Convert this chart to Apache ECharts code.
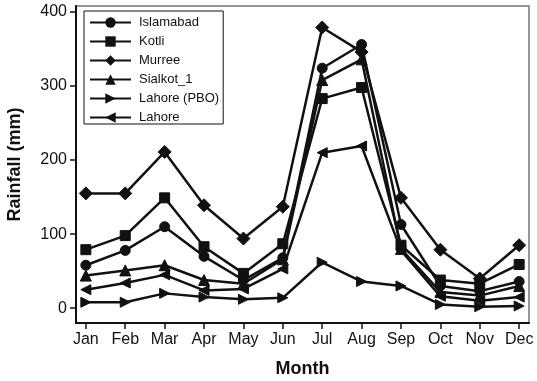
<!DOCTYPE html>
<html>
<head>
<meta charset="utf-8">
<script src="https://cdn.jsdelivr.net/npm/echarts@6/dist/echarts.min.js"></script>
<style>html,body{margin:0;padding:0;background:#fff}#c{width:537px;height:381px}</style>
</head>
<body>
<div id="c"></div>
<script>
var months = ['Jan','Feb','Mar','Apr','May','Jun','Jul','Aug','Sep','Oct','Nov','Dec'];
var yTicks = [0, 100, 200, 300, 400];
var islamabad = [58, 78, 110, 70, 38, 68, 324, 356, 113, 30, 23, 36];
var kotli     = [79, 98, 149, 83, 47, 87, 283, 298, 85, 38, 33, 59];
var murree    = [155, 155, 211, 139, 94, 137, 379, 346, 149, 79, 40, 85];
var sialkot   = [44, 51, 58, 38, 33, 66, 308, 336, 80, 22, 17, 30];
var lahorePBO = [8, 8, 20, 15, 12, 14, 62, 36, 30, 5, 2, 3];
var lahore    = [25, 34, 45, 24, 26, 53, 210, 219, 78, 16, 10, 15];

var seriesDefs = [
  {name: 'Islamabad', data: islamabad, symbol: 'circle', size: 10},
  {name: 'Kotli', data: kotli, symbol: 'rect', size: 10},
  {name: 'Murree', data: murree, symbol: 'diamond', size: 13},
  {name: 'Sialkot_1', data: sialkot, symbol: 'triangle', size: 11},
  {name: 'Lahore (PBO)', data: lahorePBO, symbol: 'path://M0,0 L10,5 L0,10 Z', size: 10},
  {name: 'Lahore', data: lahore, symbol: 'path://M10,0 L0,5 L10,10 Z', size: 10}
];
var ink = '#111';
var chart = echarts.init(document.getElementById('c'), null, {renderer: 'canvas'});
chart.setOption({
  animation: false,
  backgroundColor: '#fff',
  textStyle: {fontFamily: 'Liberation Sans, Arial, sans-serif', color: ink},
  grid: {left: 76, right: 8, top: 6, bottom: 58, show: true, borderColor: '#777', borderWidth: 1.5,
         containLabel: false, outerBoundsMode: 'none'},
  legend: {
    orient: 'vertical', left: 84, top: 11,
    padding: [5, 4, 0, 5],
    itemGap: 6, itemWidth: 41, itemHeight: 13,
    borderColor: ink, borderWidth: 1, backgroundColor: '#fff',
    textStyle: {fontSize: 13, color: ink, fontFamily: 'Liberation Sans, Arial, sans-serif', padding: [0, 0, 0, 3]},
    data: seriesDefs.map(function (s) { return s.name; })
  },
  xAxis: {
    type: 'value', min: 0.75, max: 12.25,
    name: 'Month', nameLocation: 'middle', nameGap: 37,
    nameTextStyle: {fontSize: 18, fontWeight: 'bold', color: ink},
    axisLine: {show: true, onZero: false, lineStyle: {color: ink, width: 2}},
    axisTick: {show: true, length: 6, lineStyle: {color: ink, width: 1.5}, customValues: [1,2,3,4,5,6,7,8,9,10,11,12]},
    axisLabel: {fontSize: 16, color: ink, margin: 9, customValues: [1,2,3,4,5,6,7,8,9,10,11,12],
      formatter: function (v) { return months[Math.round(v) - 1]; }},
    splitLine: {show: false}
  },
  yAxis: {
    type: 'value', min: -20, max: 408,
    name: 'Rainfall (mm)', nameLocation: 'middle', nameGap: 52,
    nameTextStyle: {fontSize: 18, fontWeight: 'bold', color: ink},
    axisLine: {show: true, onZero: false, lineStyle: {color: ink, width: 2}},
    axisTick: {show: true, length: 6, lineStyle: {color: ink, width: 1.5}, customValues: yTicks},
    axisLabel: {fontSize: 16, color: ink, margin: 9, customValues: yTicks},
    splitLine: {show: false}
  },
  series: seriesDefs.map(function (s) {
    return {
      name: s.name, type: 'line',
      data: s.data.map(function (v, i) { return [i + 1, v]; }),
      symbol: s.symbol, symbolSize: s.size, showSymbol: true,
      lineStyle: {color: ink, width: 2.5},
      itemStyle: {color: ink, borderColor: ink},
      emphasis: {disabled: true}
    };
  })
});
</script>
</body>
</html>
